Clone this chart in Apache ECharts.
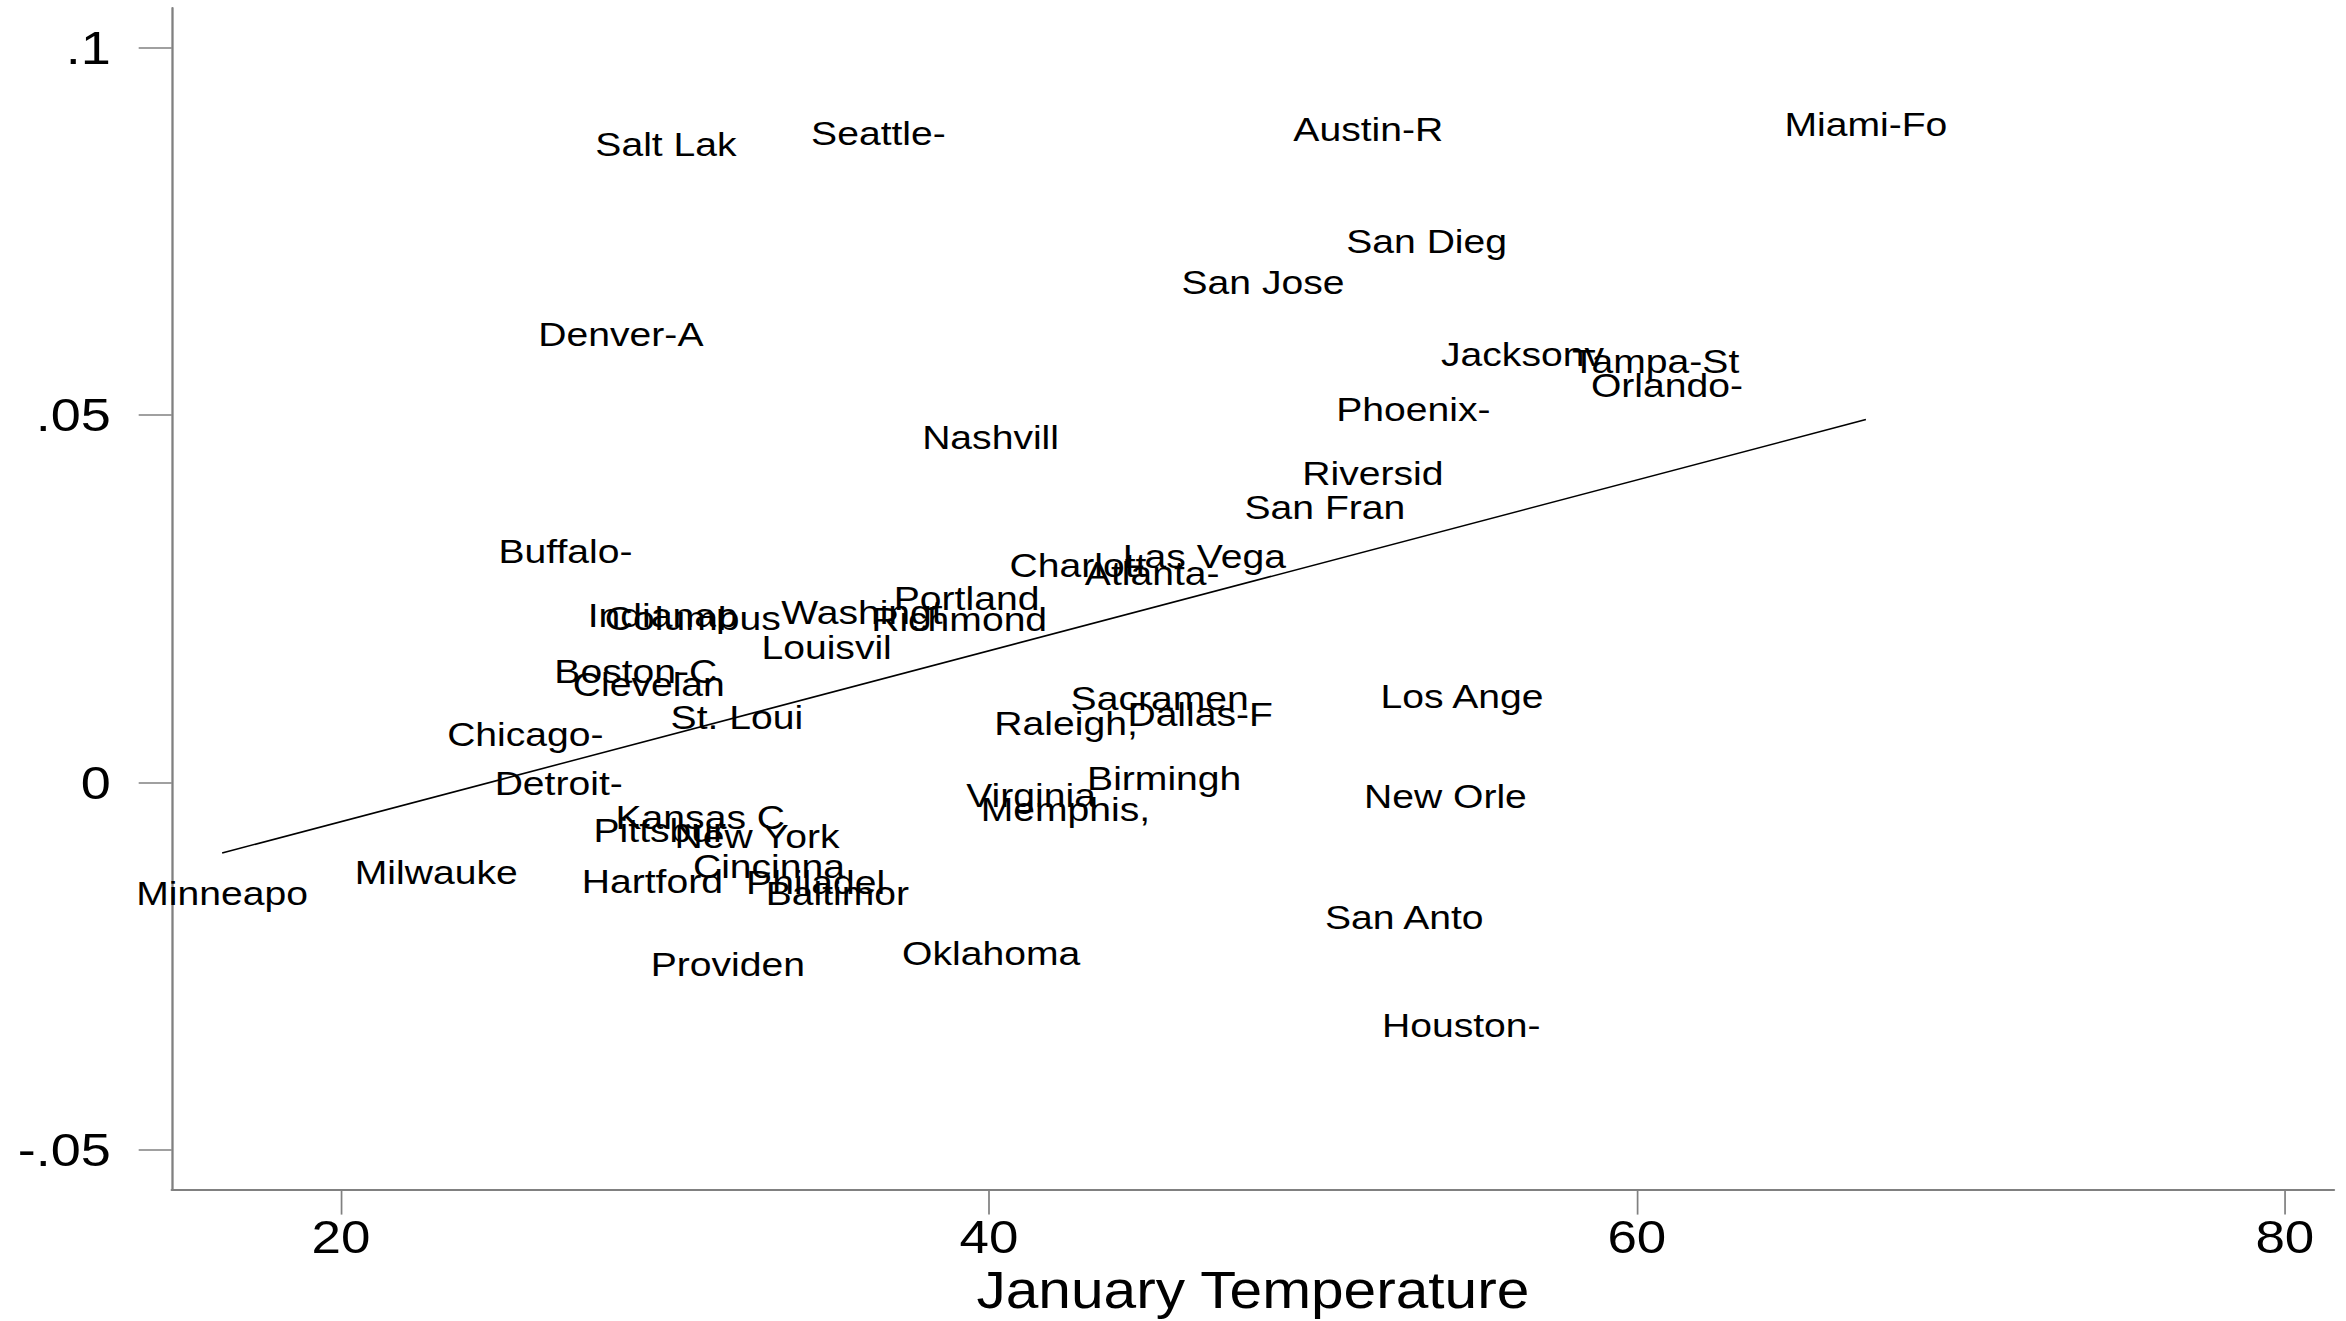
<!DOCTYPE html>
<html>
<head>
<meta charset="utf-8">
<script src="https://cdn.jsdelivr.net/npm/echarts@6/dist/echarts.min.js"></script>
<style>
  html, body { margin: 0; padding: 0; background: #fff; overflow: hidden; }
  /* drawn at a narrower width, then widened like the original graph export */
  #chart { width: 2040px; height: 1321px; transform: scaleX(1.15); transform-origin: 0 0; }
</style>
</head>
<body>
<div id="chart"></div>
<script>
// City labels (truncated to eight characters) and their coordinates
const cities = [
  'Salt Lak', 'Seattle-', 'Austin-R', 'Miami-Fo', 'San Dieg', 'San Jose', 'Denver-A',
  'Jacksonv', 'Tampa-St', 'Orlando-', 'Phoenix-', 'Nashvill', 'Riversid', 'San Fran',
  'Buffalo-', 'Charlott', 'Las Vega', 'Atlanta-', 'Portland', 'Indianap', 'Columbus',
  'Washingt', 'Richmond', 'Louisvil', 'Boston-C', 'Clevelan', 'Sacramen', 'Los Ange',
  'St. Loui', 'Raleigh,', 'Dallas-F', 'Chicago-', 'Birmingh', 'Detroit-', 'Virginia',
  'New Orle', 'Memphis,', 'Kansas C', 'Pittsbur', 'New York', 'Milwauke', 'Cincinna',
  'Hartford', 'Philadel', 'Baltimor', 'Minneapo', 'San Anto', 'Oklahoma', 'Providen',
  'Houston-'
];
const janTemp = [
  30.03, 36.59, 51.71, 67.07, 53.51, 48.46, 28.64,
  56.47, 60.58, 60.93, 53.10, 40.05, 51.85, 50.37,
  26.93, 42.75, 46.65, 45.04, 39.31, 29.93, 30.86,
  36.08, 39.08, 34.99, 29.10, 29.50, 45.27, 54.60,
  32.22, 42.38, 46.52, 25.69, 45.41, 26.72, 41.30,
  54.09, 42.36, 31.09, 29.84, 32.84, 22.94, 33.21,
  29.61, 34.65, 35.32, 16.33, 52.82, 40.07, 31.94,
  54.58
];
const cityY = [
  0.0869, 0.0883, 0.0889, 0.0896, 0.0737, 0.0681, 0.0610,
  0.0583, 0.0573, 0.0541, 0.0508, 0.0470, 0.0421, 0.0374,
  0.0314, 0.0295, 0.0308, 0.0285, 0.0251, 0.0228, 0.0224,
  0.0231, 0.0222, 0.0184, 0.0151, 0.0133, 0.0115, 0.0117,
  0.0089, 0.0080, 0.0093, 0.0066, 0.0005, -0.0001, -0.0017,
  -0.0019, -0.0037, -0.0047, -0.0065, -0.0074, -0.0122, -0.0114,
  -0.0134, -0.0136, -0.0151, -0.0151, -0.0183, -0.0232, -0.0248,
  -0.0331
];

// Linear fit, drawn over the range of January temperatures
const fitX = [16.33, 67.07];
const fitY = [-0.0096, 0.0494];

// Axis ticks
const xTicks = [20, 40, 60, 80];
const yTicks = [-0.05, 0, 0.05, 0.1];
const yTickLabels = ['-.05', '0', '.05', '.1'];

const FONT = '"Liberation Sans", Arial, Helvetica, sans-serif';
const AXIS_GREY = '#808080';

const chart = echarts.init(document.getElementById('chart'), null, { renderer: 'svg' });

chart.setOption({
  animation: false,
  backgroundColor: '#fff',
  grid: { left: 149.3, right: 10.4, top: 8, bottom: 124, containLabel: false },
  xAxis: {
    type: 'value',
    min: 14.774,
    max: 81.52,
    name: 'January Temperature',
    nameLocation: 'middle',
    nameGap: 72.5,
    nameTextStyle: { fontSize: 51, color: '#000', fontFamily: FONT },
    axisLine: { show: true, onZero: false, lineStyle: { color: AXIS_GREY, width: 2 } },
    axisTick: { show: true, customValues: xTicks, length: 25, lineStyle: { color: AXIS_GREY, width: 1.5 } },
    axisLabel: { customValues: xTicks, margin: 24.5, fontSize: 46, color: '#000', fontFamily: FONT },
    splitLine: { show: false }
  },
  yAxis: {
    type: 'value',
    min: -0.05541,
    max: 0.10541,
    axisLine: { show: true, onZero: false, lineStyle: { color: AXIS_GREY, width: 2 } },
    axisTick: { show: true, customValues: yTicks, length: 28.7, lineStyle: { color: AXIS_GREY, width: 1.5 } },
    axisLabel: {
      customValues: yTicks,
      margin: 53,
      fontSize: 47,
      color: '#000',
      fontFamily: FONT,
      formatter: function (v) {
        const i = yTicks.findIndex(t => Math.abs(t - v) < 1e-9);
        return i >= 0 ? yTickLabels[i] : '';
      }
    },
    splitLine: { show: false }
  },
  series: [
    {
      type: 'line',
      data: fitX.map((x, i) => [x, fitY[i]]),
      symbol: 'none',
      silent: true,
      lineStyle: { color: '#000', width: 1.5 }
    },
    {
      type: 'custom',
      data: janTemp.map((t, i) => [t, cityY[i]]),
      clip: false,
      silent: true,
      renderItem: function (params, api) {
        const p = api.coord([api.value(0), api.value(1)]);
        return {
          type: 'text',
          x: p[0],
          y: p[1],
          style: {
            text: cities[params.dataIndex],
            fontSize: 34,
            fontFamily: FONT,
            fill: '#000',
            align: 'center',
            verticalAlign: 'middle'
          }
        };
      }
    }
  ]
});
</script>
</body>
</html>
